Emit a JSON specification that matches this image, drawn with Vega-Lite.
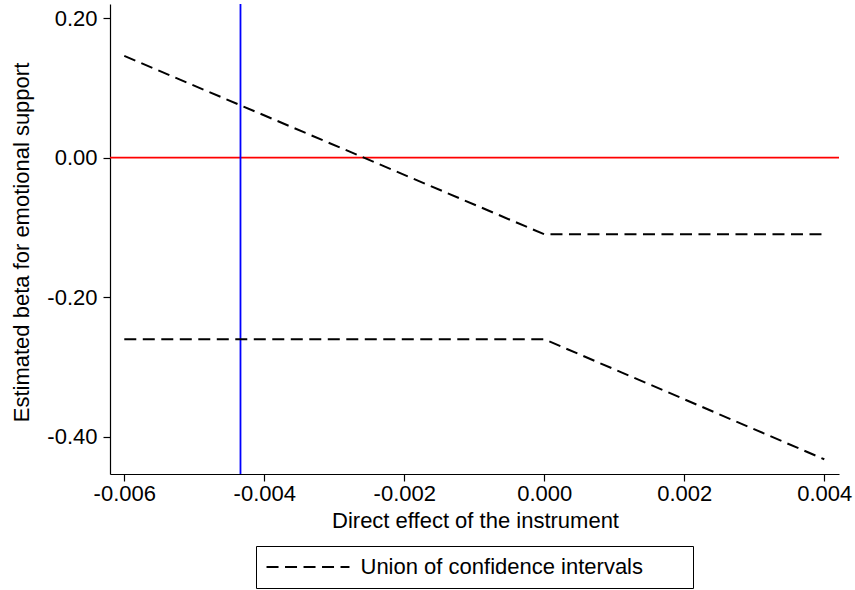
{
  "$schema": "https://vega.github.io/schema/vega-lite/v6.json",
  "autosize": "none",
  "width": 729,
  "height": 470,
  "padding": {"left": 110, "top": 4, "right": 16, "bottom": 116},
  "background": "white",
  "config": {
    "view": {"stroke": null},
    "font": "Liberation Sans",
    "axis": {
      "grid": false,
      "domainColor": "black",
      "domainWidth": 1.2,
      "tickColor": "black",
      "tickWidth": 1.2,
      "tickSize": 7,
      "labelFont": "Liberation Sans",
      "labelFontSize": 22,
      "labelColor": "black",
      "titleFont": "Liberation Sans",
      "titleFontSize": 22,
      "titleFontWeight": "normal",
      "titleColor": "black"
    }
  },
  "datasets": {
    "ci": [
      {"x": -0.006, "y": 0.146, "bound": "upper", "series": "Union of confidence intervals"},
      {"x": 0.0, "y": -0.1099, "bound": "upper", "series": "Union of confidence intervals"},
      {"x": 0.004, "y": -0.1099, "bound": "upper", "series": "Union of confidence intervals"},
      {"x": -0.006, "y": -0.2605, "bound": "lower", "series": "Union of confidence intervals"},
      {"x": 0.0, "y": -0.2605, "bound": "lower", "series": "Union of confidence intervals"},
      {"x": 0.004, "y": -0.4327, "bound": "lower", "series": "Union of confidence intervals"}
    ],
    "hline": [{"y": 0}],
    "vline": [{"x": -0.00434}]
  },
  "layer": [
    {
      "data": {"name": "hline"},
      "mark": {"type": "rule", "color": "#ff0000", "strokeWidth": 1.8},
      "encoding": {"y": {"field": "y", "type": "quantitative"}}
    },
    {
      "data": {"name": "vline"},
      "mark": {"type": "rule", "color": "#0000ff", "strokeWidth": 1.8},
      "encoding": {"x": {"field": "x", "type": "quantitative"}}
    },
    {
      "data": {"name": "ci"},
      "mark": {"type": "line", "strokeDash": [12, 6.5], "strokeWidth": 2},
      "encoding": {
        "x": {
          "field": "x",
          "type": "quantitative",
          "scale": {"domain": [-0.006204, 0.00421], "nice": false, "zero": false},
          "axis": {
            "values": [-0.006, -0.004, -0.002, 0, 0.002, 0.004],
            "labelExpr": "replace(format(datum.value, '.3f'), '\u2212', '-')",
            "labelPadding": 2,
            "title": "Direct effect of the instrument",
            "titleX": 365,
            "titleY": 53,
            "titleBaseline": "alphabetic"
          }
        },
        "y": {
          "field": "y",
          "type": "quantitative",
          "scale": {"domain": [-0.4538, 0.22052], "nice": false, "zero": false},
          "axis": {
            "values": [-0.4, -0.2, 0, 0.2],
            "labelExpr": "replace(format(datum.value, '.2f'), '\u2212', '-')",
            "labelPadding": 6,
            "title": "Estimated beta for emotional support",
            "titleAngle": -90,
            "titleX": -82,
            "titleY": 238,
            "titleAlign": "center",
            "titleBaseline": "alphabetic"
          }
        },
        "detail": {"field": "bound"},
        "color": {
          "field": "series",
          "type": "nominal",
          "scale": {"range": ["black"]},
          "legend": {
            "orient": "none",
            "legendX": 146,
            "legendY": 542,
            "title": " ",
            "titleOrient": "right",
            "titlePadding": 41,
            "titleFontSize": 22,
            "strokeColor": "black",
            "fillColor": "white",
            "padding": 9.5,
            "symbolType": "M-4,0L4,0",
            "symbolSize": 430,
            "symbolStrokeWidth": 2,
            "symbolDash": [12, 6.5],
            "symbolStrokeColor": "black",
            "symbolOffset": 31,
            "labelOffset": 41,
            "labelFont": "Liberation Sans",
            "labelFontSize": 22,
            "labelColor": "black",
            "labelLimit": 600
          }
        }
      }
    }
  ]
}
